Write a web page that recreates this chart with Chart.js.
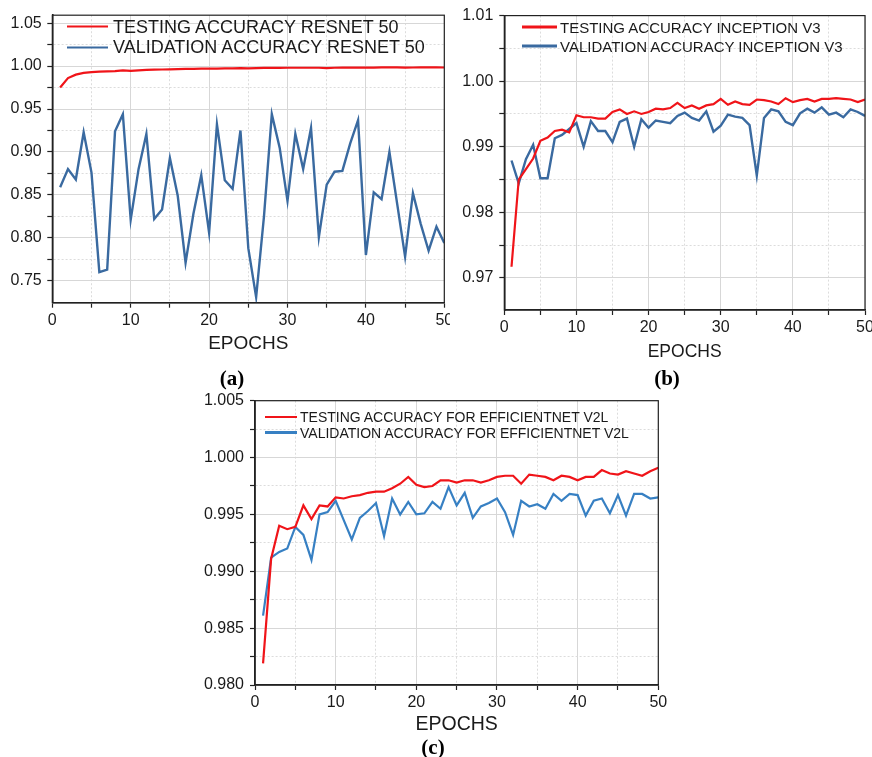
<!DOCTYPE html>
<html><head><meta charset="utf-8">
<script src="https://cdn.jsdelivr.net/npm/chart.js@4.4.0/dist/chart.umd.min.js"></script>
<style>
html,body{margin:0;padding:0;background:#fff;width:872px;height:757px;overflow:hidden;position:relative;font-family:"Liberation Sans",Arial,sans-serif;}
.box{position:absolute;overflow:hidden;}
.box canvas{position:absolute;left:0;top:0;}
.lrow{position:absolute;white-space:nowrap;color:#1a1a1a;display:flex;align-items:center;transform:translateY(-50%);}
.lsample{display:inline-block;}
.cap{position:absolute;font-family:"Liberation Serif","Times New Roman",serif;font-weight:bold;font-size:21px;transform:translate(-50%,-50%);color:#000;}
</style></head>
<body>
<div class="box" id="boxA" style="left:0;top:0;width:450px;height:360px;"><canvas id="cA" width="475" height="360"></canvas></div>
<div class="box" id="boxB" style="left:440px;top:0;width:432px;height:372px;"><canvas id="cB" width="460" height="372"></canvas></div>
<div class="box" id="boxC" style="left:190px;top:385px;width:500px;height:360px;"><canvas id="cC" width="500" height="360"></canvas></div>
<div class="cap" style="left:232px;top:378px;">(a)</div>
<div class="cap" style="left:667px;top:378px;">(b)</div>
<div class="cap" style="left:433px;top:747px;">(c)</div>
<script>
const epochs = [1,2,3,4,5,6,7,8,9,10,11,12,13,14,15,16,17,18,19,20,21,22,23,24,25,26,27,28,29,30,31,32,33,34,35,36,37,38,39,40,41,42,43,44,45,46,47,48,49,50];

const resnetTest = [0.975,0.986,0.990,0.992,0.993,0.9934,0.9937,0.9941,0.9950,0.9943,0.9950,0.9955,0.9958,0.9960,0.9961,0.9964,0.9966,0.9967,0.9969,0.9970,0.9971,0.9972,0.9974,0.9977,0.9973,0.9977,0.9978,0.9979,0.9979,0.9980,0.9980,0.9980,0.9980,0.9980,0.9975,0.9980,0.9981,0.9981,0.9981,0.9981,0.9982,0.9984,0.9986,0.9985,0.9982,0.9983,0.9985,0.9986,0.9984,0.9983];
const resnetVal = [0.859,0.880,0.868,0.923,0.876,0.760,0.763,0.924,0.944,0.821,0.880,0.921,0.822,0.833,0.893,0.849,0.771,0.828,0.873,0.806,0.932,0.867,0.857,0.925,0.788,0.731,0.825,0.944,0.905,0.843,0.921,0.880,0.928,0.801,0.862,0.877,0.878,0.910,0.937,0.780,0.853,0.845,0.900,0.839,0.778,0.852,0.816,0.785,0.813,0.794];

const inceptionTest = [0.9717,0.9850,0.9866,0.9882,0.9909,0.9914,0.9924,0.9926,0.9922,0.9948,0.9945,0.9945,0.9943,0.9943,0.9953,0.9957,0.9950,0.9954,0.9950,0.9953,0.9958,0.9957,0.9959,0.9967,0.9959,0.9963,0.9958,0.9963,0.9965,0.9973,0.9964,0.9969,0.9965,0.9964,0.9972,0.9971,0.9969,0.9965,0.9974,0.9968,0.9971,0.9973,0.9969,0.9973,0.9973,0.9974,0.9973,0.9972,0.9968,0.9972];
const inceptionVal = [0.9879,0.9844,0.9881,0.9903,0.9852,0.9852,0.9913,0.9918,0.9927,0.9936,0.9900,0.9939,0.9924,0.9924,0.9907,0.9938,0.9943,0.9900,0.9942,0.9929,0.9940,0.9938,0.9936,0.9947,0.9952,0.9944,0.9940,0.9954,0.9923,0.9932,0.9949,0.9946,0.9944,0.9933,0.9856,0.9944,0.9957,0.9954,0.9938,0.9933,0.9951,0.9958,0.9952,0.9960,0.9949,0.9952,0.9945,0.9957,0.9953,0.9947];

const effTest = [0.9819,0.9911,0.9940,0.9937,0.9939,0.9958,0.9946,0.9958,0.9957,0.9965,0.9964,0.9966,0.9967,0.9969,0.9970,0.9970,0.9973,0.9977,0.9983,0.9976,0.9974,0.9975,0.9980,0.9980,0.9978,0.9980,0.9980,0.9978,0.9980,0.9983,0.9984,0.9984,0.9977,0.9985,0.9984,0.9983,0.9980,0.9984,0.9983,0.9980,0.9983,0.9983,0.9989,0.9986,0.9985,0.9988,0.9986,0.9984,0.9988,0.9991];
const effVal = [0.9861,0.9912,0.9917,0.9920,0.9939,0.9932,0.9910,0.9950,0.9952,0.9962,0.9945,0.9928,0.9947,0.9953,0.9960,0.9931,0.9964,0.9950,0.9961,0.9950,0.9951,0.9961,0.9955,0.9974,0.9958,0.9969,0.9947,0.9957,0.9960,0.9964,0.9952,0.9932,0.9962,0.9957,0.9959,0.9955,0.9968,0.9962,0.9968,0.9967,0.9949,0.9962,0.9964,0.9951,0.9967,0.9949,0.9968,0.9968,0.9964,0.9965];

const xMajor = [0,10,20,30,40,50];
const xMinor = [5,15,25,35,45];
const resnetYMajor = [0.75,0.80,0.85,0.90,0.95,1.00,1.05];
const resnetYMinor = [0.775,0.825,0.875,0.925,0.975,1.025];
const inceptionYMajor = [0.97,0.98,0.99,1.00,1.01];
const inceptionYMinor = [0.975,0.985,0.995,1.005];
const effYMajor = [0.980,0.985,0.990,0.995,1.000,1.005];
const effYMinor = [0.9825,0.9875,0.9925,0.9975,1.0025];

const RED = 'rgb(240,20,25)';
const BLUE_DARK = 'rgb(58,106,160)';
const BLUE_LIGHT = 'rgb(55,128,195)';

const near = (arr, v) => arr.some(m => Math.abs(m - v) < 1e-7);

const framePlugin = {
  id: 'frame',
  afterDraw(chart) {
    const {ctx, chartArea: a} = chart;
    ctx.save();
    ctx.strokeStyle = '#222';
    ctx.lineWidth = 1.2;
    ctx.strokeRect(a.left, a.top, a.right - a.left, a.bottom - a.top);
    ctx.restore();
  }
};

function pts(vals) { return epochs.map((e, i) => ({x: e, y: vals[i]})); }

function makeChart(id, cfg) {
  const yTicks = cfg.yMajor.concat(cfg.yMinor).sort((a, b) => a - b);
  const xTicks = xMajor.concat(xMinor).sort((a, b) => a - b);
  const gridColor = (major, minor) => c => {
    const v = c.tick ? c.tick.value : null;
    if (v === null) return 'rgba(0,0,0,0)';
    if (near(major, v)) return 'rgb(215,215,215)';
    if (near(minor, v)) return 'rgb(220,220,220)';
    return 'rgba(0,0,0,0)';
  };
  const dash = (minor) => c => (c.tick && near(minor, c.tick.value)) ? [2, 2] : [];
  return new Chart(document.getElementById(id), {
    type: 'line',
    data: {
      datasets: [
        {label: cfg.labels[0], data: pts(cfg.test), borderColor: RED, backgroundColor: RED, borderWidth: cfg.lw[0], pointRadius: 0, tension: 0},
        {label: cfg.labels[1], data: pts(cfg.val), borderColor: cfg.blue, backgroundColor: cfg.blue, borderWidth: cfg.lw[1], pointRadius: 0, tension: 0}
      ]
    },
    options: {
      responsive: false,
      animation: false,
      events: [],
      layout: {padding: cfg.pad},
      plugins: {legend: {display: false}, tooltip: {enabled: false}},
      scales: {
        x: {
          type: 'linear', min: 0, max: 50,
          afterBuildTicks: s => { s.ticks = xTicks.map(v => ({value: v})); },
          afterFit: s => { s.height = cfg.xH; },
          ticks: {autoSkip: false, maxRotation: 0, padding: 3, color: '#1a1a1a',
            font: {family: 'Liberation Sans', size: cfg.tickSize},
            callback: v => near(xMajor, v) ? String(v) : ''},
          grid: {color: gridColor(xMajor, xMinor), lineWidth: 1, tickLength: 5, tickColor: '#222', tickWidth: 1.2},
          border: {color: '#222', width: 1.6, dash: dash(xMinor)},
          title: {display: true, text: 'EPOCHS', color: '#1a1a1a',
            font: {family: 'Liberation Sans', size: cfg.titleSize}, padding: {top: 0, bottom: cfg.titlePad}}
        },
        y: {
          type: 'linear', min: cfg.yMin, max: cfg.yMax,
          afterBuildTicks: s => { s.ticks = yTicks.map(v => ({value: v})); },
          afterFit: s => { s.width = cfg.yW; },
          ticks: {autoSkip: false, padding: cfg.yPad, color: '#1a1a1a',
            font: {family: 'Liberation Sans', size: cfg.tickSize},
            callback: v => near(cfg.yMajor, v) ? v.toFixed(cfg.dec) : ''},
          grid: {color: gridColor(cfg.yMajor, cfg.yMinor), lineWidth: 1, tickLength: 5, tickColor: '#222', tickWidth: 1.2},
          border: {color: '#222', width: 1.6, dash: dash(cfg.yMinor)}
        }
      }
    },
    plugins: [framePlugin]
  });
}

function htmlLegend(chart, lg) {
  chart.data.datasets.forEach((ds, i) => {
    const row = document.createElement('div');
    row.className = 'lrow';
    row.style.left = lg.left + 'px';
    row.style.top = lg.rows[i] + 'px';
    row.style.fontSize = lg.size + 'px';
    const s = document.createElement('span');
    s.className = 'lsample';
    s.style.width = lg.sw + 'px';
    s.style.height = lg.th + 'px';
    s.style.background = ds.borderColor;
    s.style.marginRight = lg.gap + 'px';
    row.appendChild(s);
    row.appendChild(document.createTextNode(ds.label));
    document.body.appendChild(row);
  });
}

const chA = makeChart('cA', {
  labels: ['TESTING ACCURACY RESNET 50', 'VALIDATION ACCURACY RESNET 50'],
  test: resnetTest, val: resnetVal, blue: BLUE_DARK, lw: [2.2, 2.4],
  yMajor: resnetYMajor, yMinor: resnetYMinor, yMin: 0.7245, yMax: 1.0592, dec: 2,
  pad: {left: 0, top: 12.7, right: 30.7, bottom: 0}, yW: 52.3, xH: 57.3, yPad: 5.6,
  tickSize: 16, titleSize: 19, titlePad: 5.3
});
const chB = makeChart('cB', {
  labels: ['TESTING ACCURACY INCEPTION V3', 'VALIDATION ACCURACY INCEPTION V3'],
  test: inceptionTest, val: inceptionVal, blue: BLUE_DARK, lw: [2.2, 2.4],
  yMajor: inceptionYMajor, yMinor: inceptionYMinor, yMin: 0.9651, yMax: 1.01, dec: 2,
  pad: {left: 0, top: 11, right: 35, bottom: 0}, yW: 64.3, xH: 62, yPad: 6,
  tickSize: 16, titleSize: 17.5, titlePad: 9
});
const chC = makeChart('cC', {
  labels: ['TESTING ACCURACY FOR EFFICIENTNET V2L', 'VALIDATION ACCURACY FOR EFFICIENTNET V2L'],
  test: effTest, val: effVal, blue: BLUE_LIGHT, lw: [2.2, 2.2],
  yMajor: effYMajor, yMinor: effYMinor, yMin: 0.980, yMax: 1.005, dec: 3,
  pad: {left: 0, top: 15.7, right: 31.7, bottom: 0}, yW: 65, xH: 60, yPad: 6,
  tickSize: 16, titleSize: 19.5, titlePad: 8.6
});

htmlLegend(chA, {left: 67, rows: [26.5, 47.3], size: 18, sw: 41, th: 2.5, gap: 5});
htmlLegend(chB, {left: 522, rows: [27, 46], size: 15, sw: 35, th: 2.5, gap: 3});
htmlLegend(chC, {left: 265, rows: [417, 432.5], size: 14, sw: 32, th: 2.5, gap: 3});
</script>
</body></html>
